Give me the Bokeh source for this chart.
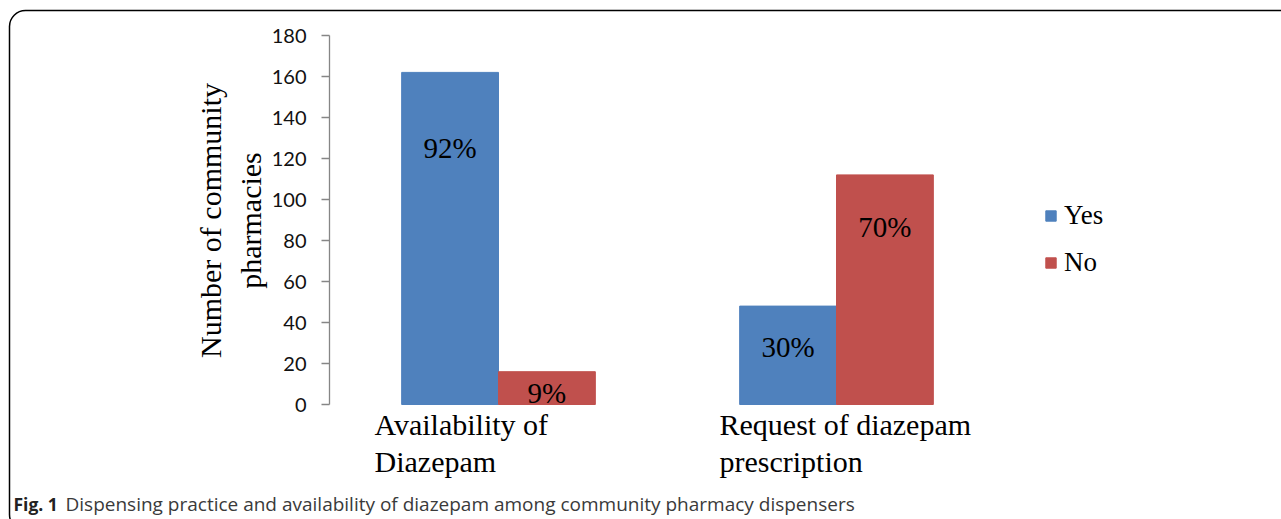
import math
from bokeh.plotting import figure
from bokeh.models import (ColumnDataSource, Range1d, FixedTicker, LabelSet, LinearAxis,
                          Label, Legend, LegendItem, BoxAnnotation)
from bokeh.embed import file_html
from bokeh.resources import INLINE

# ---- data ----
categories = ["Availability of Diazepam", "Request of diazepam prescription"]
category_labels = ["Availability of\nDiazepam", "Request of diazepam\nprescription"]
series = ["Yes", "No"]
yes_counts = [162, 48]
no_counts = [16, 112]
yes_pct = ["92%", "30%"]
no_pct = ["9%", "70%"]
y_ticks = [0, 20, 40, 60, 80, 100, 120, 140, 160, 180]

# ---- layout / style ----
W, H = 1281, 519
AX_X, Y0_PX, Y180_PX = 329, 404, 35      # pixel positions of the value axis
CAT_PX = 338                              # width of one category slot
BLUE = "#4F81BD"
RED = "#C0504D"
SERIF = "Liberation Serif"
BAR_W = 0.2865
yes_drop = [86, 51]     # px from bar top to label baseline
no_drop = [31, 62]
cat_label_dx = [-124, -117]

ppu = (Y0_PX - Y180_PX) / 180.0
x_range = Range1d(-AX_X / CAT_PX, (W - AX_X) / CAT_PX)
y_range = Range1d(-(H - Y0_PX) / ppu, 180 + Y180_PX / ppu)

xc = [i + 0.5 for i in range(len(categories))]
src = ColumnDataSource(dict(cat=categories, xc=xc,
                            x_yes=[x - BAR_W / 2 for x in xc], x_no=[x + BAR_W / 2 for x in xc],
                            yes=yes_counts, no=no_counts,
                            yes_pct=yes_pct, no_pct=no_pct,
                            yes_off=[-d for d in yes_drop], no_off=[-d for d in no_drop],
                            lab=category_labels, lab_dx=cat_label_dx))

p = figure(width=W, height=H, output_backend="svg", toolbar_location=None,
           x_range=x_range, y_range=y_range,
           x_axis_location=None, y_axis_location=None, min_border=0)
p.outline_line_color = None
p.background_fill_color = "white"
p.border_fill_color = "white"
p.xgrid.visible = False
p.ygrid.visible = False

ax = LinearAxis(fixed_location=0, bounds=(0, 180), ticker=FixedTicker(ticks=y_ticks))
ax.axis_line_color = "#868686"
ax.axis_line_width = 1.3
ax.major_tick_line_color = "#868686"
ax.major_tick_line_width = 1.3
ax.major_tick_out = 8
ax.major_tick_in = 0
ax.minor_tick_line_color = None
ax.major_label_text_font = "Lato"
ax.major_label_text_font_size = "20px"
ax.major_label_text_color = "#111111"
ax.major_label_standoff = 15
p.add_layout(ax, "left")

r_yes = p.vbar(x="x_yes", top="yes", width=BAR_W, source=src, fill_color=BLUE, line_color=BLUE)
r_no = p.vbar(x="x_no", top="no", width=BAR_W, source=src, fill_color=RED, line_color=RED)

common = dict(text_font=SERIF, text_font_size="29px", text_color="black",
              text_align="center", text_baseline="alphabetic")
p.add_layout(LabelSet(x="x_yes", y="yes", text="yes_pct", y_offset="yes_off", source=src, **common))
p.add_layout(LabelSet(x="x_no", y="no", text="no_pct", y_offset="no_off", source=src, **common))

# category labels below the bars
p.add_layout(LabelSet(x="xc", y=0, text="lab", x_offset="lab_dx", y_offset=-3, source=src,
                      text_font=SERIF, text_font_size="30px", text_color="black",
                      text_align="left", text_baseline="top", text_line_height=1.15))

# y axis title
p.add_layout(Label(x=230, y=H - 220, x_units="screen", y_units="screen",
                   text="Number of community\npharmacies", angle=math.pi / 2,
                   text_font=SERIF, text_font_size="30px", text_color="black",
                   text_align="center", text_baseline="middle", text_line_height=1.2))

# legend
legend = Legend(items=[LegendItem(label=series[0], renderers=[r_yes]),
                       LegendItem(label=series[1], renderers=[r_no])],
                location=(1044, H - 278), orientation="vertical",
                label_text_font=SERIF, label_text_font_size="27px", label_text_color="black",
                glyph_width=13, glyph_height=13, label_height=30, label_standoff=7,
                spacing=16, padding=0, margin=0,
                border_line_color=None, background_fill_alpha=0)
p.add_layout(legend, "center")

# caption
p.add_layout(Label(x=13, y=H - 503, x_units="screen", y_units="screen", text="Fig. 1",
                   text_font="Open Sans", text_font_style="bold", text_font_size="17.5px",
                   text_color="#222222", text_baseline="alphabetic"))
p.add_layout(Label(x=65, y=H - 503, x_units="screen", y_units="screen",
                   text="Dispensing practice and availability of diazepam among community pharmacy dispensers",
                   text_font="Open Sans", text_font_size="19px",
                   text_color="#3a3a3a", text_baseline="alphabetic"))

# rounded frame around the figure
p.add_layout(BoxAnnotation(left=9, right=W + 60, top=H - 10, bottom=H - 530,
                           left_units="screen", right_units="screen",
                           top_units="screen", bottom_units="screen",
                           fill_alpha=0, line_color="black", line_alpha=1.0, line_width=1.5,
                           border_radius=16, level="overlay"))

open("out.html", "w").write(file_html(p, INLINE))
